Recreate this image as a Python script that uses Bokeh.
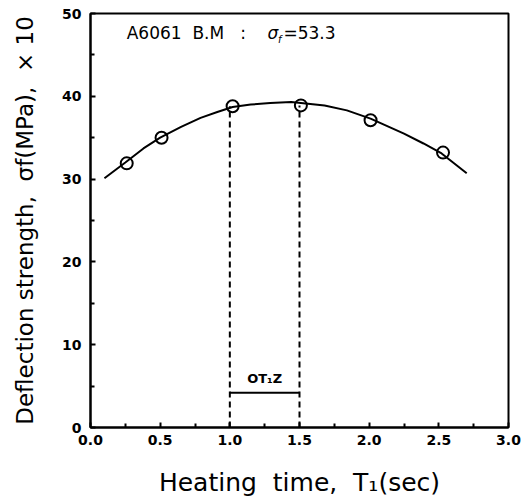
from bokeh.plotting import figure
from bokeh.models import Range1d, FixedTicker, Label
from bokeh.embed import file_html
from bokeh.resources import INLINE

# measured points
time_pts = [0.26, 0.51, 1.02, 1.51, 2.01, 2.53]
strength_pts = [31.9, 35.0, 38.8, 38.9, 37.1, 33.2]

# fitted curve
curve_t = [0.10, 0.25, 0.38, 0.50, 0.65, 0.79, 0.91, 1.02, 1.15, 1.29, 1.44,
           1.51, 1.68, 1.84, 2.01, 2.25, 2.39, 2.52, 2.70]
curve_s = [30.1, 32.0, 33.7, 35.0, 36.3, 37.4, 38.1, 38.7, 39.0, 39.2, 39.3,
           39.2, 38.9, 38.3, 37.3, 35.5, 34.3, 33.1, 30.7]

# optimum range
opt_t = [1.0, 1.5]
opt_top = [38.8, 38.9]
opt_bar = 4.2

x_ticks = [0.0, 0.5, 1.0, 1.5, 2.0, 2.5, 3.0]
y_ticks = [0, 10, 20, 30, 40, 50]

FONT = "DejaVu Sans"
NB = "\u00a0"

p = figure(width=522, height=499, output_backend="svg", toolbar_location=None,
           x_range=Range1d(0, 3), y_range=Range1d(0, 50),
           min_border_left=90, min_border_right=14, min_border_top=13, min_border_bottom=71)
p.grid.visible = False
p.background_fill_color = "white"
p.border_fill_color = "white"
p.outline_line_color = "black"
p.outline_line_width = 2

for ax in (p.xaxis[0], p.yaxis[0]):
    ax.axis_line_width = 2
    ax.major_tick_in = 5
    ax.major_tick_out = 0
    ax.minor_tick_in = 4
    ax.minor_tick_out = 0
    ax.major_tick_line_width = 2
    ax.minor_tick_line_width = 2
    ax.major_label_text_font = FONT
    ax.major_label_text_font_style = "bold"
    ax.major_label_text_font_size = "14px"
    ax.major_label_text_color = "black"
    ax.axis_label_text_font = FONT
    ax.axis_label_text_font_style = "normal"
    ax.axis_label_text_color = "black"

p.xaxis.axis_label_text_font_size = "25px"
p.yaxis.axis_label_text_font_size = "23px"
p.xaxis.ticker = FixedTicker(ticks=x_ticks, minor_ticks=[0.25, 0.75, 1.25, 1.75, 2.25, 2.75])
p.yaxis.ticker = FixedTicker(ticks=y_ticks, minor_ticks=[5, 15, 25, 35, 45])
p.xaxis.major_label_overrides = {t: f"{t:.1f}" for t in x_ticks}
p.xaxis.axis_label = f"Heating{NB}{NB}time,{NB}{NB}T\u2081(sec)"
p.yaxis.axis_label = f"Deflection{NB}strength,{NB}{NB}\u03c3f(MPa),{NB}{NB}\u00d7{NB}10"
p.xaxis.axis_label_standoff = 20
p.yaxis.axis_label_standoff = 21
p.xaxis.major_label_standoff = 7
p.yaxis.major_label_standoff = 9

p.line(curve_t, curve_s, line_color="black", line_width=2)

for t, top in zip(opt_t, opt_top):
    p.segment(x0=[t], y0=[0], x1=[t], y1=[top], line_color="black",
              line_width=2, line_dash="6 4")
p.segment(x0=[opt_t[0]], y0=[opt_bar], x1=[opt_t[1]], y1=[opt_bar],
          line_color="black", line_width=2)

p.scatter(time_pts, strength_pts, marker="circle", size=12, fill_color=None,
          line_color="black", line_width=2)

p.add_layout(Label(x=(opt_t[0] + opt_t[1]) / 2, y=opt_bar + 0.8, text="OT\u2081Z",
                   text_align="center", text_baseline="bottom", text_font=FONT,
                   text_font_size="13px", text_font_style="bold", text_color="black"))

p.add_layout(Label(x=0.26, y=47.6, text=f"A6061{NB}{NB}B.M{NB}{NB}{NB}:", text_align="left",
                   text_baseline="middle", text_font=FONT, text_font_size="17px",
                   text_color="black"))
p.add_layout(Label(x=1.27, y=47.6, text="\u03c3", text_align="left",
                   text_baseline="middle", text_font=FONT, text_font_size="17px",
                   text_font_style="italic", text_color="black"))
p.add_layout(Label(x=1.345, y=46.9, text="f", text_align="left",
                   text_baseline="middle", text_font=FONT, text_font_size="10px",
                   text_font_style="italic", text_color="black"))
p.add_layout(Label(x=1.385, y=47.6, text="=53.3", text_align="left",
                   text_baseline="middle", text_font=FONT, text_font_size="17px",
                   text_color="black"))

open("out.html", "w").write(file_html(p, INLINE))
